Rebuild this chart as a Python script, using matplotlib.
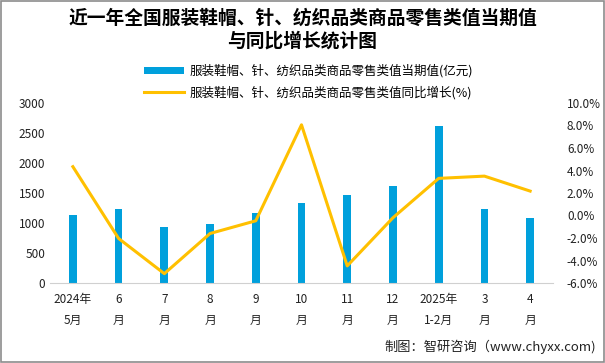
import matplotlib.pyplot as plt
import numpy as np
from matplotlib.ticker import FuncFormatter
from matplotlib.patches import Rectangle

plt.rcParams['font.family'] = ['Noto Sans CJK SC', 'DejaVu Sans']

# data
months = ["2024年\n5月", "6\n月", "7\n月", "8\n月", "9\n月", "10\n月", "11\n月",
          "12\n月", "2025年\n1-2月", "3\n月", "4\n月"]
retail_value = [1133, 1233, 933, 983, 1167, 1333, 1467, 1617, 2617, 1233, 1083]
yoy_growth = [4.34, -2.04, -5.17, -1.6, -0.47, 8.06, -4.48, -0.2, 3.3, 3.5, 2.17]

bar_color = "#00A0DC"
line_color = "#FFC000"

fig = plt.figure(figsize=(6.05, 3.63), dpi=100)
fig.patches.append(Rectangle((0.001, 0.002), 0.997, 0.996, transform=fig.transFigure,
                             fill=False, edgecolor="#8c8c8c", linewidth=1.2))

ax = fig.add_axes([50 / 605, 1 - 283 / 363, 503 / 605, 180 / 363])
x = np.arange(len(months))
bars = ax.bar(x, retail_value, width=0.17, color=bar_color, zorder=2)
ax.set_xlim(-0.5, len(months) - 0.5)
ax.set_ylim(0, 3000)
ax.set_yticks(range(0, 3001, 500))
ax.set_xticks(x)
ax.set_xticklabels(months, fontsize=8.5, linespacing=1.8)
ax.tick_params(axis='both', length=0, labelsize=8.5, colors="#222222")
ax.tick_params(axis='x', pad=7)
for s in ["top", "right", "left"]:
    ax.spines[s].set_visible(False)
ax.spines["bottom"].set_color("#d0d0d0")

ax2 = ax.twinx()
line, = ax2.plot(x, yoy_growth, color=line_color, linewidth=2.2, zorder=3)
ax2.set_ylim(-6, 10)
ax2.set_yticks(np.arange(-6, 10.1, 2))
ax2.yaxis.set_major_formatter(FuncFormatter(lambda v, p: f"{v:.1f}%"))
ax2.tick_params(axis='y', length=0, labelsize=8.5, colors="#222222", pad=10)
for s in ["top", "right", "left", "bottom"]:
    ax2.spines[s].set_visible(False)

fig.text(0.5, 0.975, "近一年全国服装鞋帽、针、纺织品类商品零售类值当期值\n与同比增长统计图",
         ha="center", va="top", fontsize=13.5, fontweight="bold", linespacing=1.25)

fig.legend([bars, line],
           ["服装鞋帽、针、纺织品类商品零售类值当期值(亿元)",
            "服装鞋帽、针、纺织品类商品零售类值同比增长(%)"],
           loc="center", bbox_to_anchor=(0.51, 0.775), ncol=1, frameon=False,
           fontsize=9, handlelength=3.2, labelspacing=0.65, handleheight=0.5,
           borderpad=0.2, handletextpad=0.4)

fig.text(0.985, 0.025, "制图：智研咨询（www.chyxx.com)", ha="right", va="bottom",
         fontsize=9.5, color="#222222")

fig.savefig("out.png", dpi=100)
